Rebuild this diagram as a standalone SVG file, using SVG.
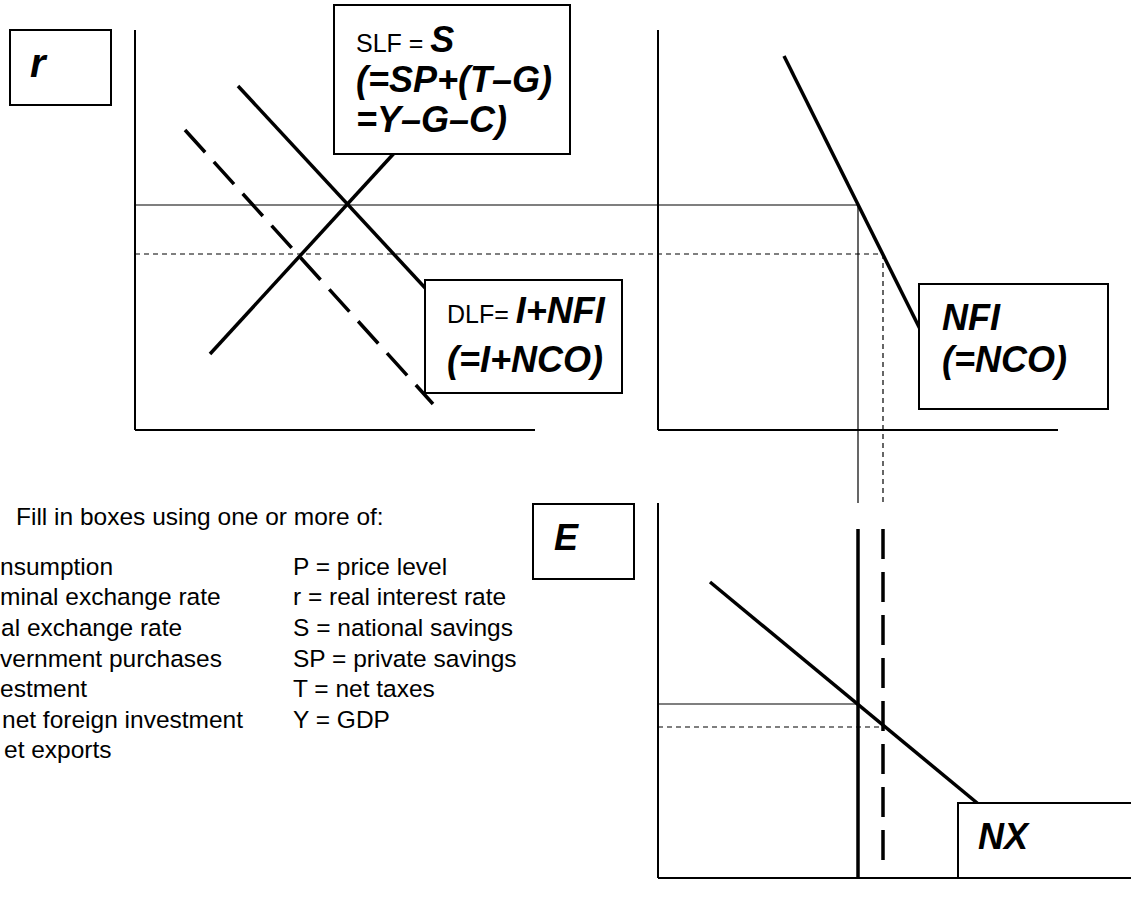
<svg xmlns="http://www.w3.org/2000/svg" width="1131" height="903" viewBox="0 0 1131 903">
<style>
.bg{fill:#ffffff}
.box{fill:#ffffff;stroke:#000;stroke-width:2}
.axis{stroke:#000;stroke-width:2;fill:none}
.guide{stroke:#000;stroke-width:1.2;fill:none}
.dot{stroke:#000;stroke-width:1.2;fill:none;stroke-dasharray:5 4}
.curve{stroke:#000;stroke-width:3.5;fill:none}
.dash{stroke:#000;stroke-width:3.5;fill:none;stroke-dasharray:30 13}
.bi{font-family:"Liberation Sans",Arial,sans-serif;font-weight:bold;font-style:italic;font-size:36px;fill:#000}
.rg{font-family:"Liberation Sans",Arial,sans-serif;font-size:25px;fill:#000}
.lg{font-family:"Liberation Sans",Arial,sans-serif;font-size:24.5px;fill:#000}
</style>
<rect class="bg" x="0" y="0" width="1131" height="903"/>
<g id="connectors">
  <line class="axis" x1="135" y1="30" x2="135" y2="430"/>
  <line class="axis" x1="135" y1="430" x2="535" y2="430"/>
  <line class="axis" x1="658" y1="30" x2="658" y2="430"/>
  <line class="axis" x1="658" y1="430" x2="1058" y2="430"/>
  <line class="axis" x1="658" y1="503" x2="658" y2="878"/>
  <line class="axis" x1="658" y1="878" x2="1058" y2="878"/>
  <line class="guide" x1="135" y1="205" x2="858" y2="205"/>
  <line class="dot" x1="135" y1="254" x2="883" y2="254"/>
  <line class="guide" x1="858" y1="205" x2="858" y2="503"/>
  <line class="dot" x1="883" y1="254" x2="883" y2="503"/>
  <line class="guide" x1="658" y1="704" x2="858" y2="704"/>
  <line class="dot" x1="658" y1="727" x2="883" y2="727"/>
  <line class="curve" x1="210" y1="354" x2="397" y2="150"/>
  <line class="curve" x1="238" y1="86" x2="440" y2="304"/>
  <line class="dash" x1="185" y1="130" x2="433" y2="404"/>
  <line class="curve" x1="784" y1="56" x2="925" y2="339"/>
  <line class="curve" x1="858" y1="529" x2="858" y2="877"/>
  <line class="dash" x1="883" y1="529" x2="883" y2="869"/>
  <line class="curve" x1="710" y1="582" x2="982" y2="807"/>
</g>
<g id="box-r">
  <rect class="box" x="10" y="30" width="101" height="75"/>
  <text class="bi" x="30" y="77" style="font-size:40px">r</text>
</g>
<g id="box-slf">
  <rect class="box" x="334" y="5" width="236" height="149"/>
  <text x="356" y="52"><tspan class="rg">SLF = </tspan><tspan class="bi">S</tspan></text>
  <text class="bi" x="356" y="92">(=SP+(T–G)</text>
  <text class="bi" x="356" y="132">=Y–G–C)</text>
</g>
<g id="box-dlf">
  <rect class="box" x="425" y="280" width="197" height="113"/>
  <text x="447" y="323"><tspan class="rg">DLF= </tspan><tspan class="bi">I+NFI</tspan></text>
  <text class="bi" x="447" y="372">(=I+NCO)</text>
</g>
<g id="box-nfi">
  <rect class="box" x="919" y="284" width="189" height="125"/>
  <text class="bi" x="942" y="330">NFI</text>
  <text class="bi" x="942" y="372">(=NCO)</text>
</g>
<g id="box-e">
  <rect class="box" x="533" y="504" width="101" height="75"/>
  <text class="bi" x="554" y="550">E</text>
</g>
<g id="box-nx">
  <rect class="box" x="958" y="803" width="182" height="75"/>
  <text class="bi" x="978" y="849">NX</text>
</g>
<g id="legend">
  <text class="lg" x="16" y="525">Fill in boxes using one or more of:</text>
  <text class="lg" x="0" y="575">nsumption</text>
  <text class="lg" x="0" y="605">minal exchange rate</text>
  <text class="lg" x="1" y="636">al exchange rate</text>
  <text class="lg" x="0" y="667">vernment purchases</text>
  <text class="lg" x="0" y="697">estment</text>
  <text class="lg" x="2" y="728">net foreign investment</text>
  <text class="lg" x="4" y="758">et exports</text>
  <text class="lg" x="293" y="575">P = price level</text>
  <text class="lg" x="293" y="605">r = real interest rate</text>
  <text class="lg" x="293" y="636">S = national savings</text>
  <text class="lg" x="293" y="667">SP = private savings</text>
  <text class="lg" x="293" y="697">T = net taxes</text>
  <text class="lg" x="293" y="728">Y = GDP</text>
</g>
</svg>
